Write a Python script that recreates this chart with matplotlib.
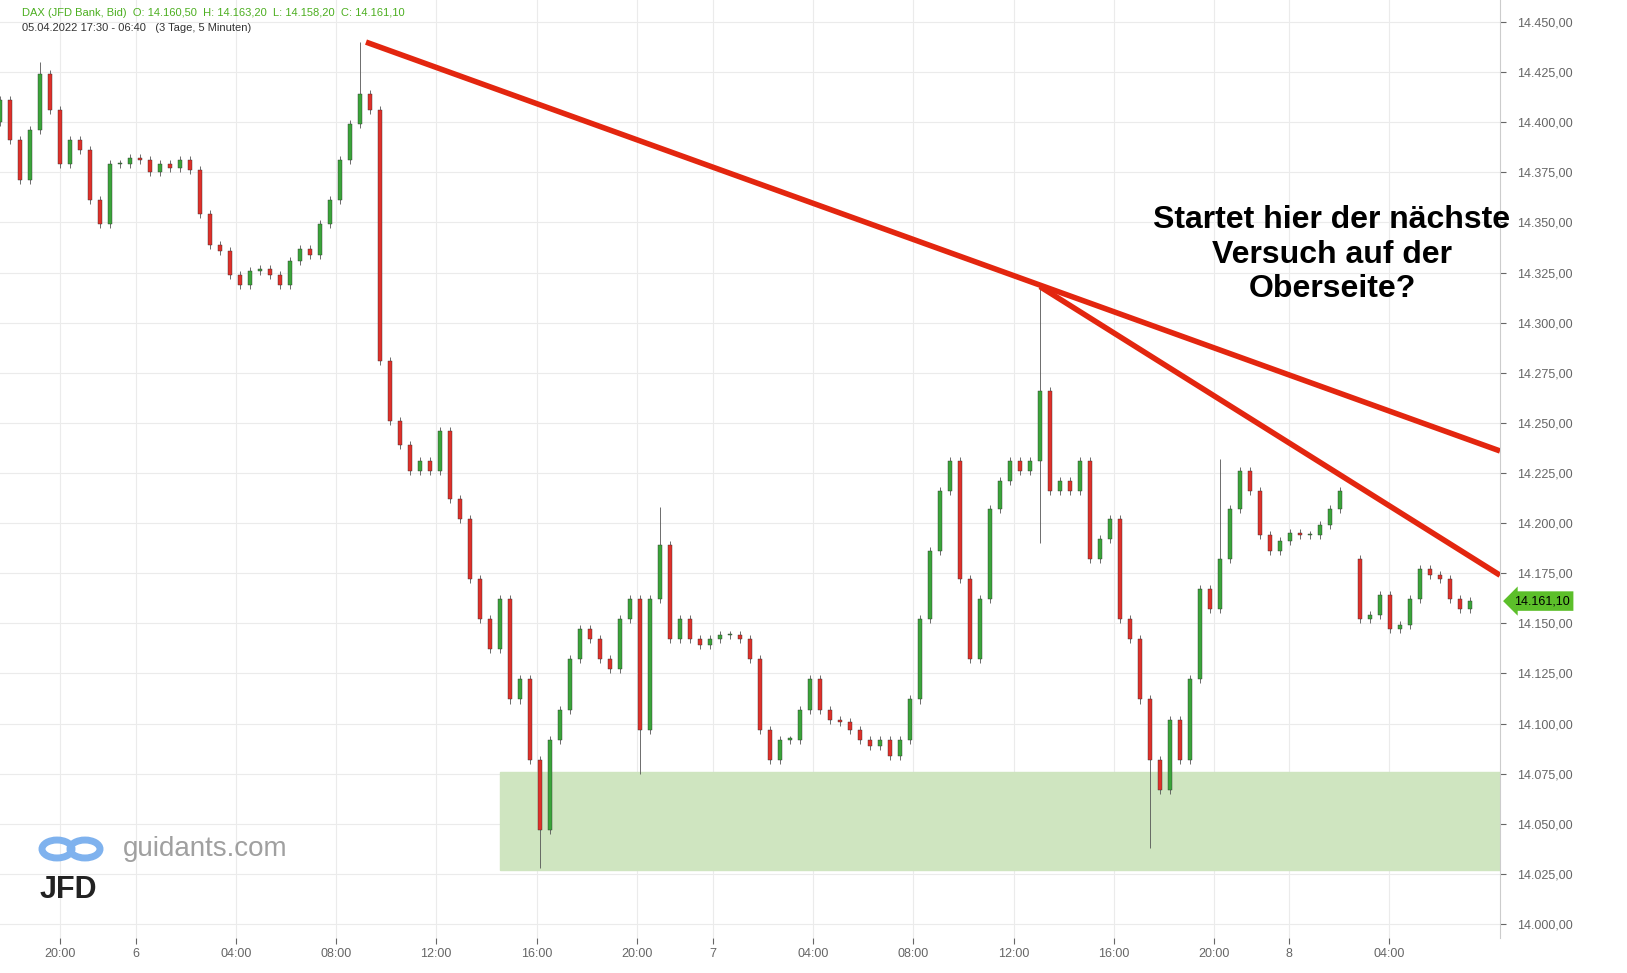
import matplotlib
matplotlib.use("Agg")
import matplotlib.pyplot as plt
from matplotlib.patches import Rectangle, Circle

plt.rcParams["font.family"] = "Liberation Sans"

# closes, one bar per 0.4 h (chart compressed time axis, in hours)
closes = [14411, 14391, 14371, 14396, 14424, 14406, 14379, 14391, 14386, 14361,
          14349, 14379, 14379, 14382, 14381, 14375, 14379, 14377, 14381, 14376,
          14354, 14339, 14336, 14324, 14319, 14326, 14327, 14324, 14319, 14331,
          14337, 14334, 14349, 14361, 14381, 14399, 14414, 14406, 14281, 14251,
          14239, 14226, 14231, 14226, 14246, 14212, 14202, 14172, 14152, 14137,
          14162, 14112, 14122, 14082, 14047, 14092, 14107, 14132, 14147, 14142,
          14132, 14127, 14152, 14162, 14097, 14162, 14189, 14142, 14152, 14142,
          14139, 14142, 14144, 14144, 14142, 14132, 14097, 14082, 14092, 14092,
          14107, 14122, 14107, 14102, 14101, 14097, 14092, 14089, 14092, 14084,
          14092, 14112, 14152, 14186, 14216, 14231, 14172, 14132, 14162, 14207,
          14221, 14231, 14226, 14231, 14266, 14216, 14221, 14216, 14231, 14182,
          14192, 14202, 14152, 14142, 14112, 14082, 14067, 14102, 14082, 14122,
          14167, 14157, 14182, 14207, 14226, 14216, 14194, 14186, 14191, 14195,
          14194, 14194, 14199, 14207, 14216, None, 14152, 14154, 14164, 14147,
          14149, 14162, 14177, 14174, 14172, 14162, 14157, 14161]
first_open = 14400
spikes = {4: (14430, None), 36: (14440, None), 54: (None, 14028), 64: (None, 14075),
          66: (14208, None), 104: (14318, 14190), 115: (None, 14038), 122: (14232, None)}
bar_hours = 0.4

tick_pos = [2.4, 5.44, 9.44, 13.44, 17.44, 21.48, 25.48, 28.52, 32.52, 36.52,
            40.56, 44.56, 48.56, 51.56, 55.56]
tick_labels = ["20:00", "6", "04:00", "08:00", "12:00", "16:00", "20:00", "7",
               "04:00", "08:00", "12:00", "16:00", "20:00", "8", "04:00"]
price_ticks = list(range(14000, 14451, 25))

trend1 = ([14.64, 60], [14440, 14236])
trend2 = ([41.6, 60], [14318, 14174])
zone = (20, 60, 14027, 14076)
last_price = 14161.10

fig = plt.figure(figsize=(16.27, 9.73), dpi=100)
ax = fig.add_axes([0, 35 / 973, 1500 / 1627, 938 / 973])
ax.set_xlim(0, 60)
ax.set_ylim(13993, 14461)

ax.add_patch(Rectangle((zone[0], zone[2]), zone[1] - zone[0], zone[3] - zone[2],
                       color="#cfe5c0", zorder=1))

prev = first_open
for i, c in enumerate(closes):
    if c is None:
        prev = None
        continue
    o = prev if prev is not None else c + 30
    x = i * bar_hours
    hi, lo = max(o, c) + 2, min(o, c) - 2
    if i in spikes:
        hi = spikes[i][0] or hi
        lo = spikes[i][1] or lo
    ax.vlines(x, lo, hi, color="#555555", lw=0.6, zorder=2)
    col = "#3aa53a" if c >= o else "#e0302a"
    ax.add_patch(Rectangle((x - 0.09, min(o, c)), 0.18, max(abs(c - o), 0.8),
                           facecolor=col, edgecolor="#333333", lw=0.3, zorder=3))
    prev = c

ax.plot(*trend1, color="#e3260f", lw=4, zorder=4, solid_capstyle="butt")
ax.plot(*trend2, color="#e3260f", lw=4, zorder=4, solid_capstyle="butt")

ax.set_xticks(tick_pos, tick_labels)
ax.set_yticks(price_ticks, [f"{p:,}".replace(",", ".") + ",00" for p in price_ticks])
ax.yaxis.tick_right()
ax.tick_params(axis="both", labelsize=9, colors="#666666", length=4)
ax.tick_params(axis="y", pad=8)
ax.grid(color="#ebebeb", lw=0.8)
ax.set_axisbelow(True)
for s in ["top", "left", "bottom"]:
    ax.spines[s].set_visible(False)
ax.spines["right"].set_color("#cccccc")

ax.annotate(f"{last_price:,.2f}".replace(",", "X").replace(".", ",").replace("X", "."),
            xy=(1.0, last_price), xycoords=("axes fraction", "data"),
            xytext=(10, 0), textcoords="offset points", va="center", fontsize=9,
            color="black", bbox=dict(boxstyle="larrow,pad=0.3", fc="#5cbf2a", ec="none"))

fig.text(1332 / 1627, 1 - 205 / 973, "Startet hier der nächste\nVersuch auf der\nOberseite?",
         ha="center", va="top", fontsize=23, fontweight="bold", linespacing=1.2)
fig.text(22 / 1627, 1 - 13 / 973, "DAX (JFD Bank, Bid)  O: 14.160,50  H: 14.163,20  L: 14.158,20  C: 14.161,10",
         fontsize=8, color="#4caf20", va="center")
fig.text(22 / 1627, 1 - 28 / 973, "05.04.2022 17:30 - 06:40   (3 Tage, 5 Minuten)",
         fontsize=8, color="#333333", va="center")
fig.text(123 / 1627, 1 - 849 / 973, "guidants.com", fontsize=20, color="#a0a0a0", va="center")
fig.text(40 / 1627, 1 - 890 / 973, "JFD", fontsize=22, fontweight="bold", color="#222222", va="center")
for cx in (57, 85):
    fig.patches.append(Circle((cx / 1627, 1 - 849 / 973), 15 / 1627, transform=fig.transFigure,
                              fill=False, ec="#7fb2ee", lw=5))

fig.savefig("out.png", dpi=100)
